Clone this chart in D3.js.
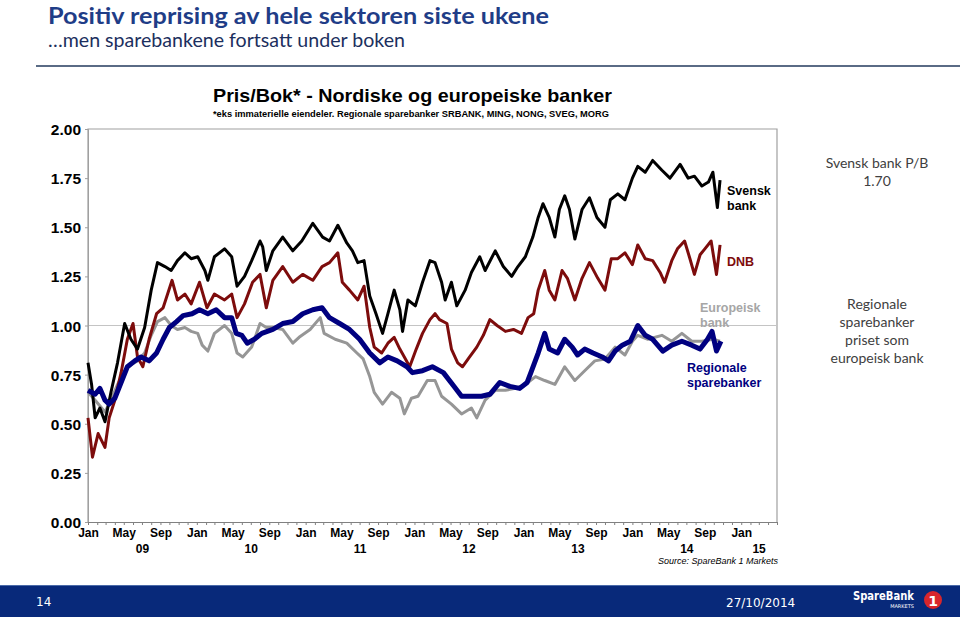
<!DOCTYPE html>
<html>
<head>
<meta charset="utf-8">
<script src="https://cdn.jsdelivr.net/npm/d3@7"></script>
<style>
  body { margin: 0; background: #fff; }
  svg { display: block; }
  .ax text { font-family: "Liberation Sans", Arial, sans-serif; font-weight: bold; fill: #000; }
</style>
</head>
<body>
<svg id="chart" width="960" height="620"></svg>
<script>
// P/B series: [date, value]
const svenskBank = [
  ["2009-01-01",0.81],["2009-01-13",0.70],["2009-01-25",0.53],["2009-02-10",0.58],["2009-02-27",0.51],
  ["2009-03-19",0.66],["2009-04-10",0.81],["2009-05-04",1.01],["2009-05-25",0.93],["2009-06-16",0.88],
  ["2009-07-10",0.99],["2009-08-01",1.18],["2009-08-22",1.32],["2009-09-16",1.30],["2009-10-07",1.28],
  ["2009-10-28",1.33],["2009-11-22",1.37],["2009-12-13",1.34],["2010-01-04",1.35],["2010-01-28",1.28],
  ["2010-02-07",1.23],["2010-03-01",1.35],["2010-04-04",1.39],["2010-04-28",1.35],["2010-05-16",1.20],
  ["2010-06-10",1.25],["2010-07-04",1.33],["2010-08-01",1.43],["2010-08-10",1.40],["2010-08-22",1.28],
  ["2010-09-13",1.38],["2010-10-16",1.45],["2010-11-19",1.38],["2010-12-19",1.43],["2011-01-25",1.52],
  ["2011-02-27",1.45],["2011-03-22",1.43],["2011-04-19",1.51],["2011-05-19",1.42],["2011-06-07",1.38],
  ["2011-06-25",1.32],["2011-07-16",1.33],["2011-08-04",1.15],["2011-08-25",1.06],["2011-09-16",0.96],
  ["2011-10-04",1.06],["2011-10-25",1.18],["2011-11-13",1.08],["2011-11-22",0.97],["2011-12-10",1.13],
  ["2012-01-04",1.10],["2012-01-28",1.22],["2012-02-22",1.33],["2012-03-10",1.32],["2012-04-01",1.22],
  ["2012-04-13",1.13],["2012-05-04",1.22],["2012-05-22",1.10],["2012-06-19",1.18],["2012-07-10",1.27],
  ["2012-08-07",1.35],["2012-08-25",1.28],["2012-09-28",1.38],["2012-10-25",1.30],["2012-11-22",1.25],
  ["2012-12-13",1.30],["2013-01-07",1.35],["2013-02-01",1.45],["2013-02-19",1.55],["2013-03-07",1.62],
  ["2013-03-28",1.55],["2013-04-16",1.45],["2013-05-01",1.59],["2013-05-19",1.66],["2013-06-04",1.59],
  ["2013-06-22",1.44],["2013-07-16",1.59],["2013-08-10",1.65],["2013-09-04",1.55],["2013-10-01",1.50],
  ["2013-10-19",1.64],["2013-11-13",1.67],["2013-12-07",1.64],["2014-01-01",1.75],["2014-01-19",1.81],
  ["2014-02-13",1.78],["2014-03-10",1.84],["2014-04-10",1.79],["2014-05-07",1.75],["2014-06-10",1.82],
  ["2014-07-07",1.75],["2014-07-28",1.76],["2014-08-22",1.71],["2014-09-13",1.73],["2014-09-28",1.78],
  ["2014-10-13",1.60],["2014-10-22",1.74]
];
const dnb = [
  ["2009-01-01",0.53],["2009-01-16",0.33],["2009-02-04",0.45],["2009-02-27",0.38],["2009-03-13",0.53],
  ["2009-04-01",0.62],["2009-04-22",0.76],["2009-05-13",0.93],["2009-06-01",1.01],["2009-06-16",0.84],
  ["2009-07-04",0.79],["2009-07-25",0.93],["2009-08-19",1.06],["2009-09-10",1.09],["2009-10-10",1.23],
  ["2009-10-28",1.13],["2009-11-22",1.16],["2009-12-13",1.11],["2010-01-10",1.22],["2010-02-04",1.09],
  ["2010-03-01",1.16],["2010-04-04",1.13],["2010-04-28",1.16],["2010-05-16",1.04],["2010-06-10",1.11],
  ["2010-07-07",1.22],["2010-08-01",1.26],["2010-08-22",1.09],["2010-09-13",1.23],["2010-10-16",1.30],
  ["2010-11-19",1.22],["2010-12-22",1.26],["2011-01-25",1.23],["2011-02-25",1.30],["2011-03-22",1.32],
  ["2011-04-19",1.37],["2011-05-04",1.22],["2011-05-28",1.18],["2011-06-25",1.13],["2011-07-16",1.20],
  ["2011-08-04",0.99],["2011-08-19",0.89],["2011-09-13",0.86],["2011-10-04",0.91],["2011-10-25",0.94],
  ["2011-11-13",0.88],["2011-11-28",0.84],["2011-12-16",0.79],["2012-01-07",0.88],["2012-01-28",0.96],
  ["2012-02-22",1.03],["2012-03-10",1.06],["2012-03-25",1.03],["2012-04-19",1.01],["2012-05-04",0.88],
  ["2012-05-25",0.81],["2012-06-10",0.79],["2012-07-04",0.84],["2012-07-28",0.89],["2012-08-19",0.95],
  ["2012-09-10",1.03],["2012-10-04",1.00],["2012-11-01",0.97],["2012-11-28",0.98],["2012-12-25",0.96],
  ["2013-01-16",1.04],["2013-02-04",1.06],["2013-02-19",1.18],["2013-03-13",1.28],["2013-03-28",1.18],
  ["2013-04-16",1.13],["2013-05-10",1.28],["2013-05-28",1.24],["2013-06-22",1.13],["2013-07-16",1.24],
  ["2013-08-10",1.32],["2013-09-07",1.24],["2013-10-01",1.18],["2013-10-22",1.34],["2013-11-13",1.34],
  ["2013-12-07",1.37],["2014-01-01",1.31],["2014-01-19",1.41],["2014-02-13",1.34],["2014-03-10",1.33],
  ["2014-04-04",1.27],["2014-04-19",1.22],["2014-05-13",1.33],["2014-06-01",1.39],["2014-06-25",1.43],
  ["2014-07-13",1.34],["2014-07-28",1.26],["2014-08-16",1.36],["2014-09-01",1.39],["2014-09-22",1.43],
  ["2014-10-10",1.26],["2014-10-22",1.41]
];
const europeiskBank = [
  ["2009-01-01",0.66],["2009-01-25",0.62],["2009-02-27",0.56],["2009-03-19",0.62],["2009-04-10",0.70],
  ["2009-05-04",0.77],["2009-05-25",0.80],["2009-06-16",0.82],["2009-07-10",0.86],["2009-08-01",0.95],
  ["2009-08-22",1.02],["2009-09-16",1.04],["2009-10-07",1.00],["2009-10-28",0.98],["2009-11-22",0.99],
  ["2009-12-13",0.97],["2010-01-04",0.96],["2010-01-19",0.90],["2010-02-07",0.87],["2010-03-01",0.96],
  ["2010-04-04",1.00],["2010-04-28",0.96],["2010-05-16",0.86],["2010-06-04",0.84],["2010-07-04",0.89],
  ["2010-08-01",1.01],["2010-08-22",0.99],["2010-09-13",0.99],["2010-10-16",0.98],["2010-11-19",0.91],
  ["2010-12-10",0.94],["2011-01-16",0.98],["2011-02-19",1.04],["2011-03-04",0.96],["2011-04-10",0.93],
  ["2011-05-19",0.91],["2011-06-22",0.86],["2011-07-13",0.83],["2011-08-04",0.74],["2011-08-19",0.66],
  ["2011-09-16",0.60],["2011-10-16",0.66],["2011-11-13",0.63],["2011-11-28",0.55],["2011-12-22",0.63],
  ["2012-01-13",0.64],["2012-02-13",0.72],["2012-03-10",0.72],["2012-04-01",0.64],["2012-05-04",0.60],
  ["2012-06-07",0.55],["2012-07-10",0.58],["2012-07-28",0.53],["2012-08-25",0.62],["2012-09-28",0.67],
  ["2012-11-01",0.67],["2012-12-04",0.68],["2013-01-07",0.70],["2013-02-10",0.74],["2013-03-13",0.72],
  ["2013-04-16",0.70],["2013-05-19",0.79],["2013-06-22",0.72],["2013-07-25",0.77],["2013-08-28",0.82],
  ["2013-10-01",0.83],["2013-11-04",0.89],["2013-12-07",0.85],["2014-01-01",0.92],["2014-01-19",0.95],
  ["2014-02-22",0.93],["2014-04-10",0.95],["2014-05-13",0.92],["2014-06-16",0.96],["2014-07-19",0.92],
  ["2014-08-22",0.92],["2014-09-28",0.93],["2014-10-22",0.92]
];
const regionaleSparebanker = [
  ["2009-01-01",0.67],["2009-01-25",0.65],["2009-02-10",0.68],["2009-02-27",0.62],["2009-03-13",0.60],
  ["2009-04-01",0.63],["2009-04-22",0.71],["2009-05-13",0.79],["2009-06-07",0.82],["2009-06-28",0.84],
  ["2009-07-25",0.82],["2009-08-19",0.86],["2009-09-10",0.93],["2009-10-01",0.99],["2009-10-25",1.02],
  ["2009-11-16",1.05],["2009-12-16",1.06],["2010-01-10",1.08],["2010-02-07",1.06],["2010-03-07",1.08],
  ["2010-04-04",1.04],["2010-04-28",1.04],["2010-05-13",0.96],["2010-06-01",0.95],["2010-06-19",0.91],
  ["2010-07-13",0.93],["2010-08-07",0.96],["2010-09-13",0.98],["2010-10-16",1.01],["2010-11-19",1.02],
  ["2010-12-22",1.06],["2011-01-25",1.08],["2011-02-25",1.09],["2011-03-22",1.04],["2011-04-25",1.01],
  ["2011-05-28",0.98],["2011-07-01",0.93],["2011-08-04",0.86],["2011-09-07",0.81],["2011-10-04",0.84],
  ["2011-11-04",0.82],["2011-12-07",0.79],["2011-12-25",0.76],["2012-01-28",0.77],["2012-03-01",0.79],
  ["2012-04-07",0.76],["2012-05-13",0.69],["2012-06-07",0.64],["2012-07-10",0.64],["2012-08-13",0.64],
  ["2012-09-10",0.65],["2012-10-13",0.71],["2012-11-16",0.69],["2012-12-19",0.68],["2013-01-13",0.71],
  ["2013-01-28",0.77],["2013-02-19",0.86],["2013-03-13",0.96],["2013-03-28",0.88],["2013-04-25",0.86],
  ["2013-05-19",0.93],["2013-06-13",0.89],["2013-07-01",0.85],["2013-07-25",0.88],["2013-08-22",0.86],
  ["2013-09-22",0.84],["2013-10-13",0.82],["2013-11-04",0.87],["2013-11-28",0.90],["2013-12-25",0.92],
  ["2014-01-19",1.00],["2014-02-13",0.95],["2014-03-10",0.93],["2014-04-13",0.87],["2014-05-13",0.90],
  ["2014-06-16",0.92],["2014-07-19",0.90],["2014-08-16",0.88],["2014-09-10",0.93],["2014-09-25",0.97],
  ["2014-10-10",0.87],["2014-10-25",0.92]
];

const yTicks = [0, 0.25, 0.5, 0.75, 1, 1.25, 1.5, 1.75, 2];
const yearLabels = ["09", "10", "11", "12", "13", "14", "15"];

const parse = d3.timeParse("%Y-%m-%d");
const svg = d3.select("#chart");
const W = 960;

// plot area
const x = d3.scaleTime()
  .domain([new Date(2009, 0, 1), new Date(2015, 4, 1)])
  .range([88, 777]);
const y = d3.scaleLinear().domain([0, 2]).range([522, 129]);

// slide header
svg.append("text").attr("x", 48).attr("y", 24)
  .attr("font-family", "Lato, 'Open Sans', sans-serif").attr("font-weight", "bold")
  .attr("font-size", 23).attr("fill", "#1f3d87")
  .attr("textLength", 501).attr("lengthAdjust", "spacingAndGlyphs")
  .text("Positiv reprising av hele sektoren siste ukene");
svg.append("text").attr("x", 48).attr("y", 47)
  .attr("font-family", "Lato, 'Open Sans', sans-serif")
  .attr("font-size", 19).attr("fill", "#1c2f5e")
  .attr("textLength", 357).attr("lengthAdjust", "spacingAndGlyphs")
  .text("…men sparebankene fortsatt under boken");
svg.append("line").attr("x1", 36).attr("x2", W).attr("y1", 66).attr("y2", 66)
  .attr("stroke", "#5a6b85").attr("stroke-width", 2);

// chart title
svg.append("text").attr("x", 213).attr("y", 102)
  .attr("font-family", "'Liberation Sans', Arial, sans-serif").attr("font-weight", "bold")
  .attr("font-size", 19).attr("fill", "#000")
  .attr("textLength", 399).attr("lengthAdjust", "spacingAndGlyphs")
  .text("Pris/Bok* - Nordiske og europeiske banker");
svg.append("text").attr("x", 213).attr("y", 117)
  .attr("font-family", "'Liberation Sans', Arial, sans-serif").attr("font-weight", "bold")
  .attr("font-size", 9.5).attr("fill", "#000")
  .attr("textLength", 396).attr("lengthAdjust", "spacingAndGlyphs")
  .text("*eks immaterielle eiendeler. Regionale sparebanker SRBANK, MING, NONG, SVEG, MORG");

// frame and 1.00 gridline
svg.append("path")
  .attr("d", `M${x.range()[0]},${y(0)}V${y(2)}H${x.range()[1]}V${y(0)}`)
  .attr("fill", "none").attr("stroke", "#a0a0a0").attr("stroke-width", 1.2);
svg.append("line").attr("x1", x.range()[0]).attr("x2", x.range()[1])
  .attr("y1", y(1)).attr("y2", y(1)).attr("stroke", "#c4c4c4").attr("stroke-width", 1);

// y axis
const yAxis = svg.append("g").attr("class", "ax").attr("transform", `translate(${x.range()[0]},0)`)
  .call(d3.axisLeft(y).tickValues(yTicks).tickFormat(d3.format(".2f")).tickSize(3).tickPadding(4));
yAxis.select(".domain").attr("stroke", "#a0a0a0");
yAxis.selectAll(".tick line").attr("stroke", "#a0a0a0");
yAxis.selectAll("text").attr("font-size", 15.5).attr("dy", "0.36em");

// x axis: monthly minor ticks, labels every 4 months (Jan 09 .. Jan 15)
const xMinor = svg.append("g").attr("transform", `translate(0,${y(0)})`)
  .call(d3.axisBottom(x).ticks(d3.timeMonth.every(1)).tickSize(3).tickFormat(""));
xMinor.select(".domain").attr("stroke", "#808080");
xMinor.selectAll(".tick line").attr("stroke", "#808080");
const labelMonths = d3.timeMonth.every(4).range(new Date(2009, 0, 1), new Date(2015, 1, 1));
const xAxis = svg.append("g").attr("class", "ax").attr("transform", `translate(0,${y(0)})`)
  .call(d3.axisBottom(x).tickValues(labelMonths).tickFormat(d3.timeFormat("%b")).tickSize(0).tickPadding(6));
xAxis.select(".domain").remove();
xAxis.selectAll("text").attr("font-size", 12);

// year labels centred on each year's visible span
svg.append("g").attr("class", "ax").selectAll("text")
  .data(yearLabels).join("text")
  .attr("x", d => {
    const a = new Date(2000 + +d, 0, 1), b = d3.min([new Date(2001 + +d, 0, 1), x.domain()[1]]);
    return (x(a) + x(b)) / 2;
  })
  .attr("y", 553).attr("text-anchor", "middle").attr("font-size", 12)
  .text(d => d);

svg.append("text").attr("x", 778).attr("y", 564).attr("text-anchor", "end")
  .attr("font-family", "'Liberation Sans', Arial, sans-serif").attr("font-style", "italic")
  .attr("font-size", 9).attr("fill", "#000")
  .text("Source: SpareBank 1 Markets");

// lines
const line = d3.line().x(d => x(parse(d[0]))).y(d => y(d[1]));
const series = [
  { data: europeiskBank, color: "#969696", width: 3 },
  { data: dnb, color: "#7d0c0c", width: 3 },
  { data: svenskBank, color: "#000000", width: 3 },
  { data: regionaleSparebanker, color: "#000080", width: 5 }
];
svg.append("g").selectAll("path").data(series).join("path")
  .attr("d", d => line(d.data))
  .attr("fill", "none")
  .attr("stroke", d => d.color)
  .attr("stroke-width", d => d.width)
  .attr("stroke-linejoin", "round");

// series labels
const labelFont = "'Liberation Sans', Arial, sans-serif";
const seriesLabels = [
  { lines: ["Svensk", "bank"], x: 727, y: 195, color: "#000" },
  { lines: ["DNB"], x: 727, y: 266, color: "#7d0c0c" },
  { lines: ["Europeisk", "bank"], x: 700, y: 312, color: "#a6a6a6" },
  { lines: ["Regionale", "sparebanker"], x: 687, y: 372, color: "#000080" }
];
seriesLabels.forEach(l => {
  const t = svg.append("text").attr("x", l.x).attr("y", l.y)
    .attr("font-family", labelFont).attr("font-weight", "bold").attr("font-size", 12.5)
    .attr("fill", l.color);
  l.lines.forEach((s, i) => t.append("tspan").attr("x", l.x).attr("dy", i ? 15 : 0).text(s));
});

// right-hand comments
const noteFont = "Lato, 'Open Sans', sans-serif";
const notes = [
  { lines: ["Svensk bank P/B", "1.70"], y: 168 },
  { lines: ["Regionale", "sparebanker", "priset som", "europeisk bank"], y: 309 }
];
notes.forEach(n => {
  const t = svg.append("text").attr("y", n.y).attr("text-anchor", "middle")
    .attr("font-family", noteFont).attr("font-size", 14).attr("fill", "#404040");
  n.lines.forEach((s, i) => t.append("tspan").attr("x", 877).attr("dy", i ? 18 : 0).text(s));
});

// footer band
const foot = svg.append("g");
foot.append("rect").attr("x", 0).attr("y", 585).attr("width", W).attr("height", 32).attr("fill", "#08297a");
foot.append("line").attr("x1", 0).attr("x2", W).attr("y1", 585.5).attr("y2", 585.5).attr("stroke", "#4a6aa8");
foot.append("text").attr("x", 36).attr("y", 606).attr("fill", "#fff")
  .attr("font-family", "'DejaVu Sans', Verdana, sans-serif").attr("font-size", 12).text("14");
foot.append("text").attr("x", 726).attr("y", 607).attr("fill", "#fff")
  .attr("font-family", "'DejaVu Sans', Verdana, sans-serif").attr("font-size", 12).text("27/10/2014");
foot.append("text").attr("x", 853).attr("y", 600).attr("fill", "#fff")
  .attr("font-family", "'DejaVu Sans', Verdana, sans-serif").attr("font-weight", "bold")
  .attr("font-size", 11.5).attr("textLength", 61).attr("lengthAdjust", "spacingAndGlyphs").text("SpareBank");
foot.append("text").attr("x", 914).attr("y", 608).attr("text-anchor", "end").attr("fill", "#fff")
  .attr("font-family", "'DejaVu Sans', Verdana, sans-serif").attr("font-size", 5).text("MARKETS");
foot.append("circle").attr("cx", 933).attr("cy", 600).attr("r", 9).attr("fill", "#d8262c");
foot.append("text").attr("x", 933).attr("y", 605.5).attr("text-anchor", "middle").attr("fill", "#fff")
  .attr("font-family", "'DejaVu Sans', Verdana, sans-serif").attr("font-weight", "bold")
  .attr("font-size", 14).text("1");
</script>
</body>
</html>
